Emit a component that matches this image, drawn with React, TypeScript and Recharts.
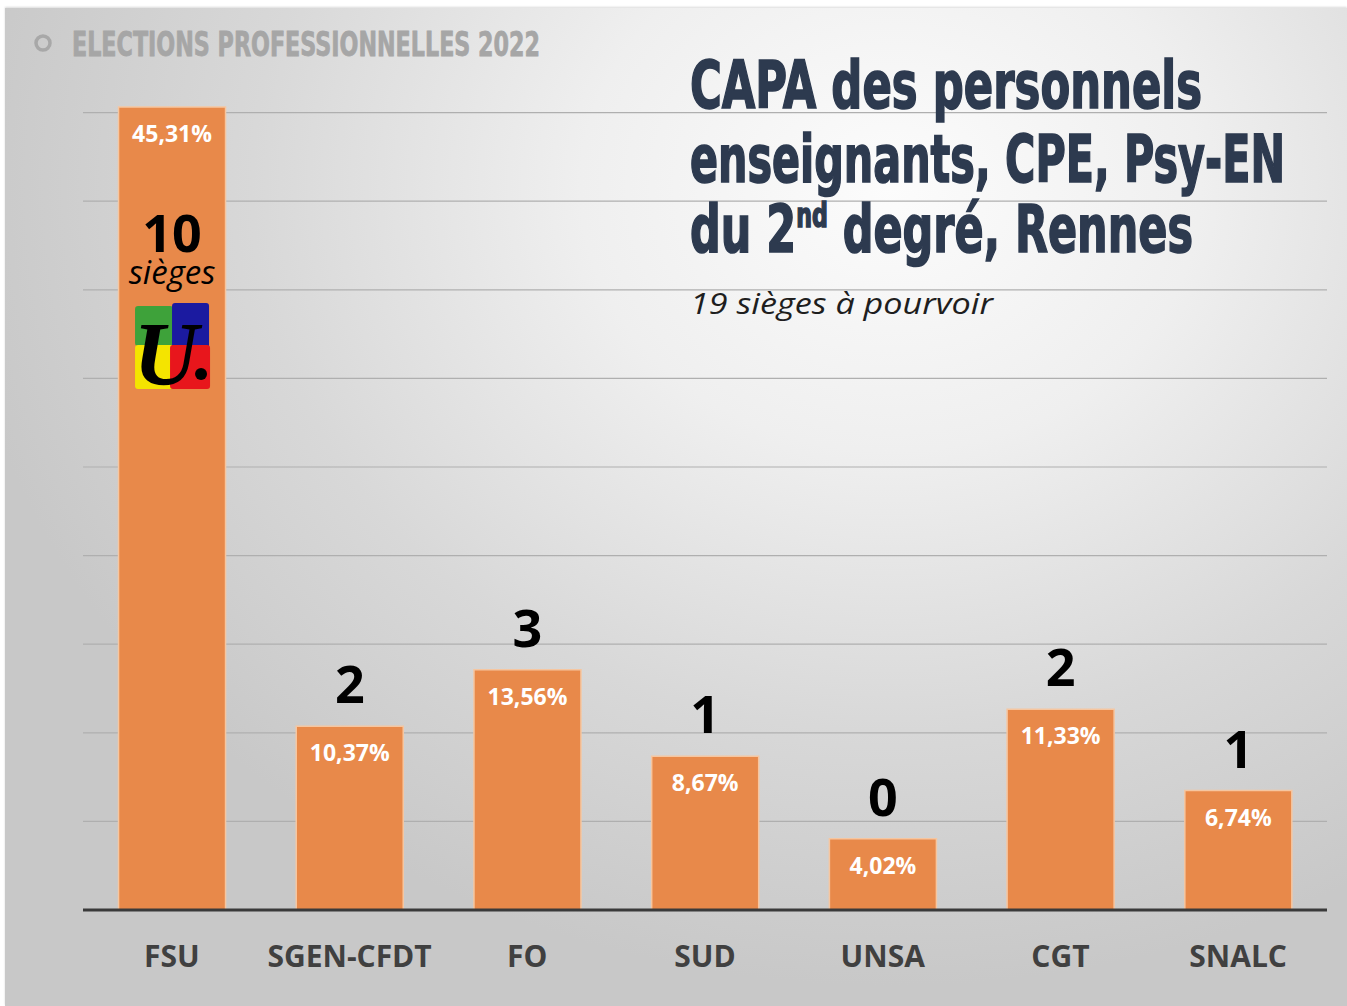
import React from "react";
import { BarChart, Bar, XAxis, YAxis, CartesianGrid, LabelList } from "recharts";

const unions = ["FSU", "SGEN-CFDT", "FO", "SUD", "UNSA", "CGT", "SNALC"];
const shares = [45.31, 10.37, 13.56, 8.67, 4.02, 11.33, 6.74];
const seats = [10, 2, 3, 1, 0, 2, 1];
const yTicks = [0, 5, 10, 15, 20, 25, 30, 35, 40, 45];

const header = "ELECTIONS PROFESSIONNELLES 2022";
const titleLines = ["CAPA des personnels", "enseignants, CPE, Psy-EN"];
const subtitle = "19 sièges à pourvoir";

const data = unions.map((u, i) => ({ union: u, share: shares[i], seats: seats[i] }));

const BAR_COLOR = "#E8894A";
const fmt = (v: number) => v.toFixed(2).replace(".", ",") + "%";

const PercentLabel = (props: any) => {
  const { x, y, width, value } = props;
  return (
    <text
      x={Number(x) + Number(width) / 2}
      y={Number(y) + 26}
      textAnchor="middle"
      dominantBaseline="central"
      fill="#FFFFFF"
      fontFamily="'Open Sans', sans-serif"
      fontWeight={700}
      fontSize={23}
    >
      {fmt(Number(value))}
    </text>
  );
};

const Logo = ({ cx, top }: { cx: number; top: number }) => {
  const l = cx - 37;
  return (
    <g>
      <rect x={l} y={top + 3} width={38} height={40} fill="#3EA23A" rx={3} />
      <rect x={l + 37} y={top} width={37} height={45} fill="#1B1AA0" rx={3} />
      <rect x={l} y={top + 42} width={38} height={44} fill="#F4E400" rx={3} />
      <rect x={l + 35} y={top + 42} width={40} height={44} fill="#E8161C" rx={3} />
      <text
        x={cx - 6}
        y={top + 82}
        textAnchor="middle"
        fontFamily="'Liberation Serif', 'DejaVu Serif', serif"
        fontStyle="italic"
        fontWeight={700}
        fontSize={90}
        fill="#000"
      >
        U
      </text>
      <circle cx={cx + 29} cy={top + 71} r={6} fill="#000" />
    </g>
  );
};

const SeatLabel = (props: any) => {
  const { x, y, width, value, index } = props;
  const cx = Number(x) + Number(width) / 2;
  const top = Number(y);
  if (index === 0) {
    return (
      <g>
        <text
          x={cx}
          y={top + 145}
          textAnchor="middle"
          fill="#000"
          fontFamily="'Open Sans', sans-serif"
          fontWeight={700}
          fontSize={52}
        >
          {value}
        </text>
        <text
          x={cx}
          y={top + 177}
          textAnchor="middle"
          fill="#000"
          fontFamily="'Open Sans', sans-serif"
          fontStyle="italic"
          fontSize={33}
        >
          sièges
        </text>
        <Logo cx={cx} top={top + 196} />
      </g>
    );
  }
  return (
    <text
      x={cx}
      y={top - 23}
      textAnchor="middle"
      fill="#000"
      fontFamily="'Open Sans', sans-serif"
      fontWeight={700}
      fontSize={52}
    >
      {value}
    </text>
  );
};

const CategoryTick = (props: any) => {
  const { x, y, payload } = props;
  return (
    <text
      x={x}
      y={Number(y) + 57}
      textAnchor="middle"
      fill="#404040"
      fontFamily="'Open Sans', sans-serif"
      fontWeight={700}
      fontSize={30}
    >
      {payload.value}
    </text>
  );
};

export default function App() {
  return (
    <div style={{ position: "absolute", left: 0, top: 0, width: 1347, height: 1006, background: "#FFFFFF", overflow: "hidden" }}>
      <div
        style={{
          position: "absolute",
          left: 5,
          top: 8,
          width: 1342,
          height: 998,
          background:
            "radial-gradient(ellipse 70% 80% at 66% 18%, #FCFCFC 0%, #EFEFEF 33%, #D8D8D8 68%, #C8C8C8 100%)",
          boxShadow: "0 -1px 2px rgba(0,0,0,0.15)",
        }}
      />
      <div style={{ position: "absolute", left: 0, top: 0 }}>
        <BarChart
          width={1347}
          height={1006}
          data={data}
          margin={{ top: 24, right: 20, bottom: 36, left: 83 }}
          barCategoryGap="20%"
        >
          <CartesianGrid
            vertical={false}
            horizontalValues={[5, 10, 15, 20, 25, 30, 35, 40, 45]}
            stroke="#AFAFAF"
            strokeWidth={1.2}
          />
          <YAxis hide domain={[0, 50]} ticks={yTicks} />
          <XAxis
            dataKey="union"
            height={60}
            tickLine={false}
            tickSize={0}
            tickMargin={0}
            axisLine={{ stroke: "#3A3A3A", strokeWidth: 3 }}
            tick={<CategoryTick />}
            interval={0}
          />
          <Bar dataKey="share" fill={BAR_COLOR} stroke="#F6C6A0" strokeWidth={1.5} isAnimationActive={false}>
            <LabelList dataKey="share" content={<PercentLabel />} />
            <LabelList dataKey="seats" content={<SeatLabel />} />
          </Bar>
        </BarChart>
      </div>
      <svg width={1347} height={1006} style={{ position: "absolute", left: 0, top: 0, pointerEvents: "none" }}>
        <circle cx={43} cy={43} r={7} fill="none" stroke="#A8A8A8" strokeWidth={3.5} />
        <text
          x={72}
          y={56}
          fill="#A6A6A6"
          stroke="#A6A6A6"
          strokeWidth={0.8}
          fontFamily="'DejaVu Sans Condensed', 'DejaVu Sans', sans-serif"
          fontWeight={700}
          fontSize={34}
          textLength={468}
          lengthAdjust="spacingAndGlyphs"
        >
          {header}
        </text>
        <g
          fill="#2D3A4F"
          stroke="#2D3A4F"
          strokeWidth={1.6}
          fontFamily="'DejaVu Sans Condensed', 'DejaVu Sans', sans-serif"
          fontWeight={700}
          fontSize={66}
        >
          <text x={690} y={108} textLength={512} lengthAdjust="spacingAndGlyphs">
            {titleLines[0]}
          </text>
          <text x={690} y={182} textLength={595} lengthAdjust="spacingAndGlyphs">
            {titleLines[1]}
          </text>
          <text x={690} y={252} textLength={503} lengthAdjust="spacingAndGlyphs">
            du 2<tspan fontSize={34} dy={-25}>nd</tspan>
            <tspan dy={25}> degré, Rennes</tspan>
          </text>
        </g>
        <text
          x={690}
          y={314}
          fill="#1E1E1E"
          fontFamily="'Open Sans', sans-serif"
          fontStyle="italic"
          fontSize={30}
          textLength={303}
          lengthAdjust="spacingAndGlyphs"
        >
          {subtitle}
        </text>
      </svg>
    </div>
  );
}
